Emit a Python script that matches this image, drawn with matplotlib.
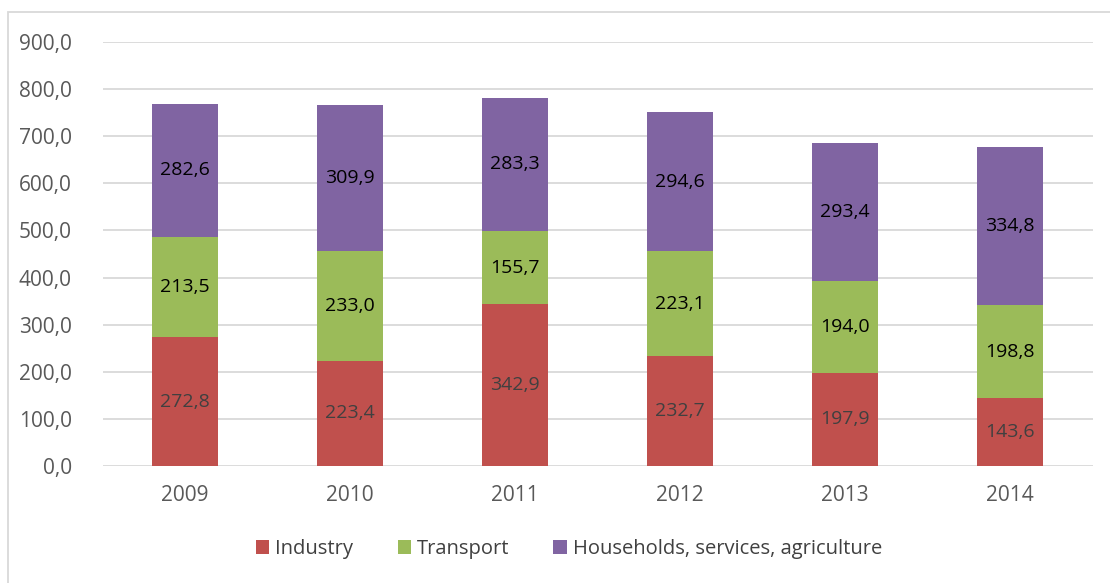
import matplotlib
matplotlib.use("Agg")
import matplotlib.pyplot as plt
from matplotlib.patches import Rectangle
import numpy as np

years = ["2009", "2010", "2011", "2012", "2013", "2014"]
industry = [272.8, 223.4, 342.9, 232.7, 197.9, 143.6]
transport = [213.5, 233.0, 155.7, 223.1, 194.0, 198.8]
households = [282.6, 309.9, 283.3, 294.6, 293.4, 334.8]
series_names = ["Industry", "Transport", "Households, services, agriculture"]
y_ticks = [0, 100, 200, 300, 400, 500, 600, 700, 800, 900]

colors = ["#C0504D", "#9BBB59", "#8064A2"]
label_colors = ["#404040", "black", "black"]

plt.rcParams["font.family"] = ["Open Sans", "DejaVu Sans"]

W, H = 1110, 583
fig = plt.figure(figsize=(W / 100, H / 100), dpi=100)
# axes: x 102.5..1092.5 px, y 42..466 px (top-down)
ax = fig.add_axes([102.5 / W, 1 - 466 / H, 990 / W, 424 / H])

x = np.arange(len(years))
bottom = np.zeros(len(years))
for vals, name, col, lcol in zip([industry, transport, households], series_names, colors, label_colors):
    vals = np.array(vals)
    ax.bar(x, vals, width=0.4, bottom=bottom, color=col, label=name, zorder=3)
    for xi, b, v in zip(x, bottom, vals):
        ax.text(xi, b + v / 2, f"{v:.1f}".replace(".", ","), ha="center", va="center",
                fontsize=14, color=lcol, zorder=4)
    bottom += vals

ax.set_xlim(-0.5, 5.5)
ax.set_ylim(0, 900)
ax.set_yticks(y_ticks)
ax.set_yticklabels([f"{t:.1f}".replace(".", ",") for t in y_ticks])
ax.set_xticks(x)
ax.set_xticklabels(years)
ax.tick_params(axis="both", length=0, labelsize=15, labelcolor="#595959")
ax.tick_params(axis="y", pad=22)
ax.tick_params(axis="x", pad=14)
ax.grid(axis="y", color="#D9D9D9", linewidth=1.3, zorder=0)
for s in ax.spines.values():
    s.set_visible(False)

handles, labels = ax.get_legend_handles_labels()
fig.legend(handles, labels, loc="center", bbox_to_anchor=(569 / W, 1 - 549 / H), ncol=3,
           frameon=False, fontsize=14.5, handlelength=0.65, handleheight=0.65,
           handletextpad=0.3, columnspacing=2.2, labelcolor="#404040")

# chart area border (left/top visible)
fig.patches.append(Rectangle((8 / W, -0.1), 1.2, 1 - 12 / H + 0.1, transform=fig.transFigure,
                             fill=False, edgecolor="#D9D9D9", linewidth=1.3))

fig.savefig("out.png", dpi=100)
